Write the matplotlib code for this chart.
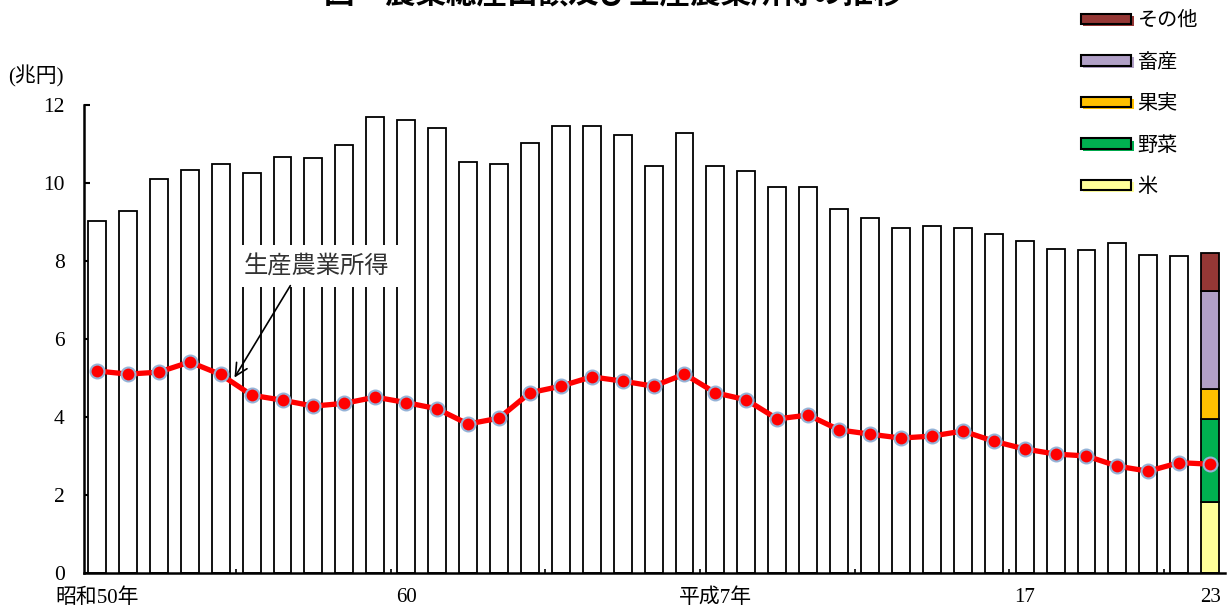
import matplotlib
matplotlib.use("Agg")
import matplotlib.pyplot as plt
import matplotlib.patheffects as pe
from matplotlib.patches import Patch
import numpy as np

# 昭和50年(1975) .. 平成23年(2011)
years = list(range(1975, 2012))
# 農業総産出額 (兆円), 1975-2010 (white bars)
total_output = [9.03, 9.28, 10.10, 10.34, 10.50, 10.25, 10.67, 10.64, 10.98, 11.70,
                11.61, 11.41, 10.55, 10.50, 11.03, 11.47, 11.47, 11.22, 10.44, 11.27,
                10.44, 10.31, 9.91, 9.91, 9.33, 9.09, 8.85, 8.89, 8.85, 8.69,
                8.51, 8.31, 8.27, 8.45, 8.16, 8.12]
# 平成23年 breakdown
last_labels = ["米", "野菜", "果実", "畜産", "その他"]
last_values = [1.82, 2.13, 0.76, 2.52, 0.98]
last_colors = ["#FFFF99", "#00B050", "#FFC000", "#B1A0C7", "#953735"]
# 生産農業所得 (兆円)
income = [5.18, 5.10, 5.15, 5.41, 5.09, 4.56, 4.43, 4.28, 4.35, 4.51,
          4.37, 4.21, 3.82, 3.97, 4.62, 4.79, 5.03, 4.92, 4.79, 5.10,
          4.62, 4.44, 3.95, 4.05, 3.67, 3.56, 3.46, 3.51, 3.64, 3.38,
          3.18, 3.05, 3.00, 2.74, 2.61, 2.83, 2.79]
tick_idx = [0, 10, 20, 30, 36]
tick_labels = ["昭和50年", "60", "平成7年", "17", "23"]

jp = ["Noto Sans CJK JP", "DejaVu Sans"]
serif_jp = ["Liberation Serif", "Noto Sans CJK JP"]

fig = plt.figure(figsize=(12.27, 6.10), dpi=100)
ax = fig.add_axes([84 / 1227, 1 - 573 / 610, 1141 / 1227, 468 / 610])

x = np.arange(len(years))
w = 0.58
ax.bar(x[:-1], total_output, width=w, facecolor="white", edgecolor="black",
       linewidth=1.3, zorder=2)
bottom = 0
for v, c in zip(last_values, last_colors):
    ax.bar(x[-1], v, width=w, bottom=bottom, facecolor=c, edgecolor="black",
           linewidth=1.3, zorder=2)
    bottom += v

ax.plot(x, income, color="#FF0000", linewidth=3.8, marker="o", markersize=10,
        markerfacecolor="#FF0000", markeredgecolor="#95B3D7", markeredgewidth=1.5,
        zorder=4)

ax.set_xlim(-0.42, len(years) - 0.52)
ax.set_ylim(0, 12)
ax.set_yticks(range(0, 13, 2))
ax.set_xticks([x[i] for i in tick_idx])
ax.set_xticklabels(tick_labels)
ax.set_xticks(np.arange(4.5, 35, 5), minor=True)
ax.tick_params(axis="x", which="major", length=0, pad=11)
ax.tick_params(axis="x", which="minor", direction="in", length=3, width=1.2)
ax.tick_params(axis="y", direction="in", length=4, width=1.5, pad=14)
for lab in ax.get_yticklabels():
    lab.set_family(serif_jp)
    lab.set_fontsize(15.5)
for lab in ax.get_xticklabels():
    lab.set_family(serif_jp)
    lab.set_fontsize(15)
for s in ["top", "right"]:
    ax.spines[s].set_visible(False)
ax.spines["left"].set_linewidth(1.8)
ax.spines["bottom"].set_linewidth(1.8)
ax.spines["bottom"].set_zorder(5)

# annotation
ax.text(7.1, 7.87, "生産農業所得", family=jp, fontsize=17.5, color="#333333",
        ha="center", va="center", zorder=3,
        bbox=dict(facecolor="white", edgecolor="none", pad=6))
ax.annotate("", xy=(4.4, 4.95), xytext=(6.3, 7.43),
            arrowprops=dict(arrowstyle="->", color="black", lw=1.2,
                            mutation_scale=22), zorder=5)

fig.text(8 / 1227, 1 - 76 / 610, "(兆円)", family=serif_jp, fontsize=15,
         va="center", ha="left")

fig.text(0.5, 1 + 7 / 610, "図　農業総産出額及び生産農業所得の推移", family=jp,
         fontsize=22, fontweight="bold", ha="center", va="center")

handles = [Patch(facecolor=c, edgecolor="black", linewidth=1.5, label=l)
           for l, c in zip(last_labels[::-1], last_colors[::-1])]
leg = fig.legend(handles=handles, loc="upper left",
                 bbox_to_anchor=(1063 / 1227, 1 + 8 / 610), frameon=False,
                 prop={"family": jp, "size": 14.5}, handlelength=2.5,
                 handleheight=0.4, handletextpad=0.3, labelspacing=1.02)
for h, c in zip(leg.legend_handles, last_colors[::-1]):
    h.set_path_effects([pe.SimplePatchShadow(offset=(1.5, -1.5), shadow_rgbFace=c,
                                             alpha=1), pe.Normal()])

fig.savefig("out.png", dpi=100)
